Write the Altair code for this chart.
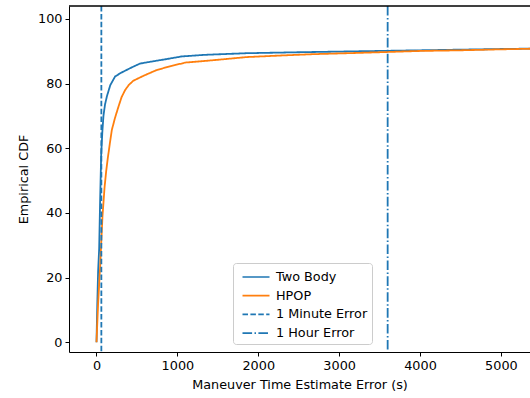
import altair as alt
import pandas as pd

# ---- data ----
two_body_x = [0, 10, 20, 33, 45, 58, 72, 86, 105, 128, 170, 230, 300, 395, 460, 539,
              700, 847, 1053, 1340, 1650, 1855, 2500, 3000, 3498, 4000, 4500, 5000, 5600]
two_body_y = [0, 12, 22, 29, 44, 58, 65, 70, 73.5, 76, 79.5, 82.2, 83.3, 84.5, 85.3, 86.2,
              86.9, 87.5, 88.4, 88.9, 89.2, 89.4, 89.7, 89.9, 90.1, 90.3, 90.5, 90.7, 90.9]

hpop_x = [0, 20, 45, 74, 100, 120, 140, 165, 190, 230, 272, 310, 354, 400, 456, 580,
          745, 930, 1050, 1094, 1340, 1600, 1855, 2200, 2672, 3100, 3498, 4000, 4500, 5000, 5600]
hpop_y = [0, 12, 23.5, 39, 48, 53, 57, 61.5, 65.7, 69.5, 72.9, 75.8, 78, 79.6, 80.9, 82.4,
          84.2, 85.5, 86.2, 86.5, 87, 87.6, 88.2, 88.6, 89.1, 89.4, 89.7, 90.1, 90.3, 90.6, 90.9]

series_names = ["Two Body", "HPOP", "1 Minute Error", "1 Hour Error"]
vline_x = [60, 3600]
x_ticks = [0, 1000, 2000, 3000, 4000, 5000]
y_ticks = [0, 20, 40, 60, 80, 100]

# ---- tables ----
curves = pd.DataFrame({
    "x": two_body_x + hpop_x,
    "y": two_body_y + hpop_y,
    "series": [series_names[0]] * len(two_body_x) + [series_names[1]] * len(hpop_x),
    "i": list(range(len(two_body_x))) + list(range(len(hpop_x))),
})
vlines = pd.DataFrame({"x": vline_x, "series": series_names[2:]})

FONT = "DejaVu Sans"
FS = 12.8
W, H = 461, 346
BLUE, ORANGE = "#1f77b4", "#ff7f0e"

legend = alt.Legend(
    title=None, orient="none", legendX=164, legendY=257,
    symbolType="M-1.5,0L1.5,0", symbolSize=324, symbolStrokeWidth=1.7,
    symbolOffset=9,
    labelFont=FONT, labelFontSize=FS, labelColor="black", labelOffset=10,
    fillColor="white", strokeColor="#cccccc", cornerRadius=3, padding=4,
    rowPadding=1.7,
)

color = alt.Color("series:N", scale=alt.Scale(domain=series_names,
                                               range=[BLUE, ORANGE, BLUE, BLUE]),
                  legend=legend)
dash = alt.StrokeDash("series:N", scale=alt.Scale(domain=series_names,
                                                   range=[[1, 0], [1, 0], [5.5, 2.4], [9.6, 2.4, 1.5, 2.4]]),
                      legend=legend)

xscale = alt.Scale(domain=[-340, 5360], nice=False, zero=False)
yscale = alt.Scale(domain=[-3, 104], nice=False, zero=False)

xaxis = alt.Axis(values=x_ticks, format="d", title="Maneuver Time Estimate Error (s)", grid=False,
                 labelFont=FONT, labelFontSize=FS, labelColor="black",
                 titleFont=FONT, titleFontSize=FS, titleFontWeight="normal", titleColor="black",
                 tickSize=4, tickColor="black", domainColor="black", labelPadding=3,
                 titlePadding=7, labelFlush=False)
yaxis = alt.Axis(values=y_ticks, format="d", title="Empirical CDF", grid=False,
                 labelFont=FONT, labelFontSize=FS, labelColor="black",
                 titleFont=FONT, titleFontSize=FS, titleFontWeight="normal", titleColor="black",
                 tickSize=4, tickColor="black", domainColor="black", labelPadding=3,
                 titlePadding=7)

lines = alt.Chart(curves).mark_line(strokeWidth=1.8, clip=True).encode(
    x=alt.X("x:Q", scale=xscale, axis=xaxis),
    y=alt.Y("y:Q", scale=yscale, axis=yaxis),
    color=color,
    strokeDash=dash,
    order=alt.Order("i:Q"),
)

rules = alt.Chart(vlines).mark_rule(strokeWidth=1.8).encode(
    x=alt.X("x:Q", scale=xscale),
    color=color,
    strokeDash=dash,
)

top_spine = alt.Chart(vlines).mark_rule(color="black", strokeWidth=1).encode(
    x=alt.value(0), x2=alt.value(W + 5), y=alt.value(0)
)

chart = alt.layer(lines, rules, top_spine).properties(
    width=W, height=H,
    autosize=alt.AutoSizeParams(type="none"),
    padding={"left": 69, "top": 6, "right": 0, "bottom": 46},
).configure_view(stroke=None)

chart.save("out.html", embed_options={"renderer": "svg", "actions": False})
